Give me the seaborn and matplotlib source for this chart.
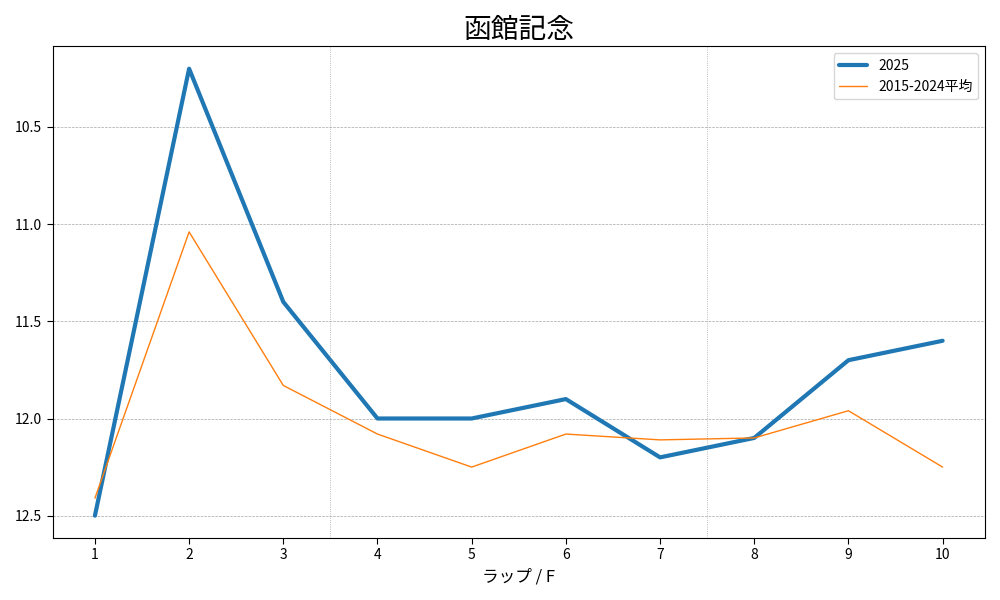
import matplotlib
matplotlib.use("Agg")
import matplotlib.pyplot as plt
import seaborn as sns

sns.set_style("white")
plt.rcParams['font.family'] = ['Noto Sans CJK JP', 'DejaVu Sans']
plt.rcParams['text.color'] = 'black'
plt.rcParams['axes.labelcolor'] = 'black'
plt.rcParams['xtick.color'] = 'black'
plt.rcParams['ytick.color'] = 'black'

laps = [1, 2, 3, 4, 5, 6, 7, 8, 9, 10]
y2025 = [12.5, 10.2, 11.4, 12.0, 12.0, 11.9, 12.2, 12.1, 11.7, 11.6]
yavg = [12.41, 11.04, 11.83, 12.08, 12.25, 12.08, 12.11, 12.10, 11.96, 12.25]

fig, ax = plt.subplots(figsize=(10, 6), dpi=100)
sns.lineplot(x=laps, y=y2025, ax=ax, color="#1f77b4", linewidth=3, label="2025")
sns.lineplot(x=laps, y=yavg, ax=ax, color="#ff7f0e", linewidth=1, label="2015-2024平均")
ax.invert_yaxis()
ax.set_xticks(laps)
ax.set_yticks([10.5, 11.0, 11.5, 12.0, 12.5])
ax.grid(axis="y", linestyle="--", linewidth=0.5, color="gray", alpha=0.7)
for xv in [3.5, 7.5]:
    ax.axvline(xv, linestyle=":", linewidth=0.6, color="gray", alpha=0.7)
for s in ax.spines.values():
    s.set_color("black")
    s.set_linewidth(0.8)
ax.tick_params(axis="both", which="both", length=4, color="black", direction="out", bottom=True, left=True)
ax.set_title("函館記念", fontsize=20)
ax.set_xlabel("ラップ / F", fontsize=12)
ax.legend(loc="upper right")
fig.tight_layout()
fig.savefig("out.png")
